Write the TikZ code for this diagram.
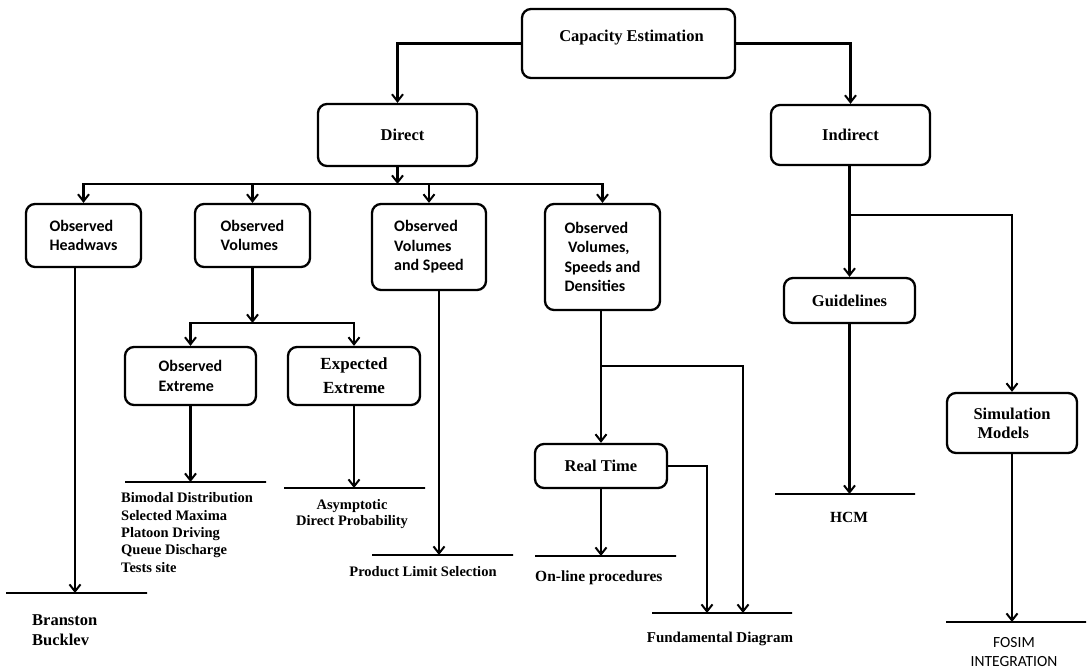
\documentclass[tikz,border=0pt]{standalone}
\usepackage{fontspec}
\setmainfont{Liberation Serif}
\newfontfamily\calib{Carlito}
\usetikzlibrary{arrows.meta}
\newcommand\serifb{\bfseries\fontsize{16.5}{19}\selectfont}
\newcommand\calb{\calib\bfseries\fontsize{16}{19.5}\selectfont}
\newcommand\listf{\bfseries\fontsize{14.5}{17.3}\selectfont}
\newcommand\calr{\calib\fontsize{15.5}{19}\selectfont}
\begin{document}
\begin{tikzpicture}[x=1pt,y=-1pt,
  box/.style={draw, line width=2.3pt, rounded corners=9pt, inner sep=0pt, align=center, font=\serifb},
  cbox/.style={box, align=left, font=\calb},
  bar/.style={draw, line width=2.3pt, inner sep=0pt, minimum height=0pt, outer sep=0pt},
  ln/.style={line width=2.3pt, line cap=rect},
  arr/.style={line width=2.3pt, -{Straight Barb[length=7pt,width=11pt,line width=2pt]}},
  lbl/.style={inner sep=0pt, font=\serifb, align=left}
]
\useasboundingbox (0,0) rectangle (1087,669);
% boxes
\node[box, minimum width=213pt, minimum height=69pt] (cap) at (628.5,43.5) {\raisebox{2pt}[0pt][0pt]{\hspace{6pt}Capacity Estimation}};
\node[box, minimum width=159pt, minimum height=62pt] (direct) at (397.5,135) {\hspace{10pt}Direct};
\node[box, minimum width=159pt, minimum height=60pt] (indirect) at (850.5,135) {Indirect};
\node[cbox, minimum width=115pt, minimum height=63pt] (heads) at (83.5,235.5) {Observed\\Headwavs};
\node[cbox, minimum width=115pt, minimum height=63pt] (vols) at (252.5,235.5) {Observed\\Volumes};
\node[cbox, minimum width=114pt, minimum height=86pt] (vs) at (429,247) {Observed\\Volumes\\and Speed};
\node[cbox, minimum width=115pt, minimum height=106pt] (vsd) at (602.5,257) {Observed\\\ Volumes,\\Speeds and\\Densities};
\node[cbox, minimum width=131pt, minimum height=58pt] (oe) at (190.5,376) {Observed\\Extreme};
\node[box, font=\bfseries\fontsize{17}{24}\selectfont, minimum width=132pt, minimum height=58pt] (ee) at (354,376) {Expected\\Extreme};
\node[box, minimum width=132pt, minimum height=44pt] (rt) at (601,466) {Real Time};
\node[box, minimum width=131pt, minimum height=45pt] (guide) at (849.5,300.5) {Guidelines};
\node[box, align=left, minimum width=130pt, minimum height=60pt] (sim) at (1012,423) {Simulation\\\ Models};
% bars
\node[bar, minimum width=141pt] (b1) at (76.5,593) {};
\node[bar, minimum width=141pt] (b2) at (195.5,482) {};
\node[bar, minimum width=141pt] (b3) at (354.5,488) {};
\node[bar, minimum width=141pt] (b4) at (442.5,555) {};
\node[bar, minimum width=140pt] (b5) at (722,613) {};
\node[bar, minimum width=141pt] (b6) at (605.5,556) {};
\node[bar, minimum width=140pt] (b7) at (845,494) {};
\node[bar, minimum width=140pt] (b8) at (1016,622) {};
% labels
\node[lbl, anchor=west, font=\bfseries\fontsize{16.5}{20}\selectfont] (bran) at (32,630) {Branston\\Bucklev};
\node[lbl, anchor=west, font=\listf] (list) at (121,532.5) {Bimodal Distribution\\Selected Maxima\\Platoon Driving\\Queue Discharge\\Tests site};
\node[lbl, align=center, font=\bfseries\fontsize{14.5}{16}\selectfont] (asym) at (352,514) {Asymptotic\\Direct Probability};
\node[lbl, font=\listf] (pls) at (423,572) {Product Limit Selection};
\node[lbl, anchor=west, font=\bfseries\fontsize{15.5}{18}\selectfont] (olp) at (535,578) {On-line procedures};
\node[lbl, font=\bfseries\fontsize{15}{18}\selectfont] (fd) at (720,639) {Fundamental Diagram};
\node[lbl, font=\bfseries\fontsize{15.5}{18}\selectfont] (hcm) at (849,517) {HCM};
\node[lbl, align=center, font=\calr] (fosim) at (1014,652) {FOSIM\\INTEGRATION};
% helper coordinates
\coordinate (bus) at (0,184);
\coordinate (bus2) at (0,323);
\coordinate (hx) at (75,0);
\coordinate (vx) at (439,0);
\coordinate (j1) at (601,366);
\coordinate (fx1) at (743,366);
\coordinate (fx2) at (707,0);
\coordinate (j2) at (849.5,215);
% connectors
\draw[arr] (cap.west) -| (direct.north);
\draw[arr] (cap.east) -| (indirect.north);
\draw[arr] (direct.south) -- (direct.south |- bus);
\draw[ln] (heads.north |- bus) -- (vsd.north |- bus);
\foreach \n in {heads,vols,vs,vsd} \draw[arr] (\n.north |- bus) -- (\n.north);
\draw[arr] (hx |- heads.south) -- (hx |- b1.north);
\draw[arr] (vols.south) -- (vols.south |- bus2);
\draw[ln] (oe.north |- bus2) -- (ee.north |- bus2);
\foreach \n in {oe,ee} \draw[arr] (\n.north |- bus2) -- (\n.north);
\draw[arr] (oe.south) -- (oe.south |- b2.north);
\draw[arr] (ee.south) -- (ee.south |- b3.north);
\draw[arr] (vx |- vs.south) -- (vx |- b4.north);
\draw[arr] (rt.north |- vsd.south) -- (rt.north);
\draw[arr] (j1) -- (fx1) -- (fx1 |- b5.north);
\draw[arr] (rt.east) -| (fx2 |- b5.north);
\draw[arr] (rt.south) -- (rt.south |- b6.north);
\draw[arr] (indirect.south -| guide.north) -- (guide.north);
\draw[arr] (j2) -| (sim.north);
\draw[arr] (guide.south) -- (guide.south |- b7.north);
\draw[arr] (sim.south) -- (sim.south |- b8.north);
\end{tikzpicture}
\end{document}
